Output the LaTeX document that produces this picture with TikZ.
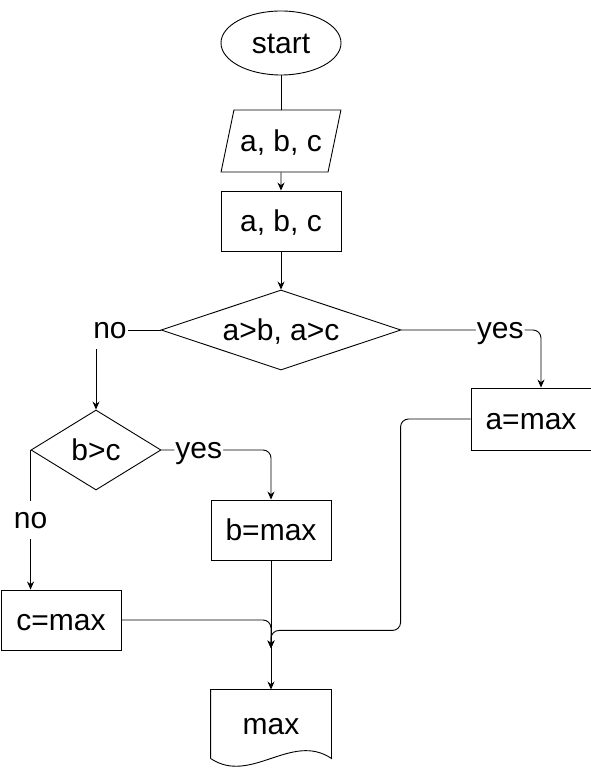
\documentclass[tikz,border=0pt]{standalone}
\usepackage{fontspec}
\setmainfont{Liberation Sans}
\usetikzlibrary{positioning, arrows.meta, shapes.geometric}

\begin{document}
\begin{tikzpicture}[
  x=1pt, y=1pt,
  font=\fontsize{30}{35}\selectfont,
  line width=0.9pt,
  >={Stealth[length=8pt, width=7pt]},
  txt/.style={text height=28pt, text depth=6.4pt},
  box/.style={rectangle, draw, txt, inner sep=0pt, minimum width=120pt, minimum height=60pt},
  term/.style={ellipse, draw, txt, inner sep=0pt, minimum width=120pt, minimum height=64pt},
  io/.style={trapezium, draw, txt, inner sep=0pt, trapezium stretches=true,
             trapezium left angle=72, trapezium right angle=108,
             minimum width=120pt, minimum height=62pt},
  cond/.style={diamond, draw, txt, inner sep=0pt, aspect=3},
  lbl/.style={fill=white, inner xsep=1pt, inner ysep=4pt, text height=24pt, text depth=6pt},
  flow/.style={->, rounded corners=8pt},
]
\useasboundingbox (0,0) rectangle (591,771);

% --- bloques ---
\node[term]                                         (start) at (281,728) {start};
\node[io]                                           (inp)   at (281,630) {a, b, c};
\node[box]                                          (proc)  at (281,550) {a, b, c};
\node[cond, minimum width=240pt, minimum height=80pt] (cab)  at (281,441) {a>b, a>c};
\node[cond, aspect=2, minimum width=130pt, minimum height=80pt] (cbc) at (96,321) {b>c};
\node[box, minimum height=62pt]                     (amax)  at (531,352) {a=max};
\node[box]                                          (bmax)  at (271,241) {b=max};
\node[box]                                          (cmax)  at (61,151)  {c=max};
\node[rectangle, txt, inner sep=0pt, minimum width=120pt, minimum height=68pt] (out) at (271,47) {max};
\draw (out.south west) -- (out.north west) -- (out.north east) -- (out.south east)
      .. controls ([xshift=-40pt, yshift=27pt]out.south east) and ([xshift=40pt, yshift=-27pt]out.south west) .. (out.south west);

\coordinate (mrg) at ([yshift=-88pt]bmax.south);

% --- conexiones ---
\draw (start) -- (inp);
\draw[->] (inp) -- (proc);
\draw[->] (proc) -- (cab);
\draw[->] (cab.west) -| node[lbl, pos=0.5, xshift=14pt]{no} (cbc.north);
\draw[flow] (cab.east) -| node[lbl, pos=0.354]{yes} ([xshift=10pt]amax.north);
\draw[flow] (cbc.east) -| node[lbl, pos=0.17]{yes} (bmax.north);
\draw[->] (cbc.west) -- node[lbl]{no} (cbc.west |- cmax.north);
\draw[->] (bmax) -- (out);
\draw[flow] (cmax.east) -| (mrg);
\draw[flow] (amax.west) -- ++(-70pt,0) |- ([yshift=18pt]mrg) -- (mrg);
\end{tikzpicture}
\end{document}
